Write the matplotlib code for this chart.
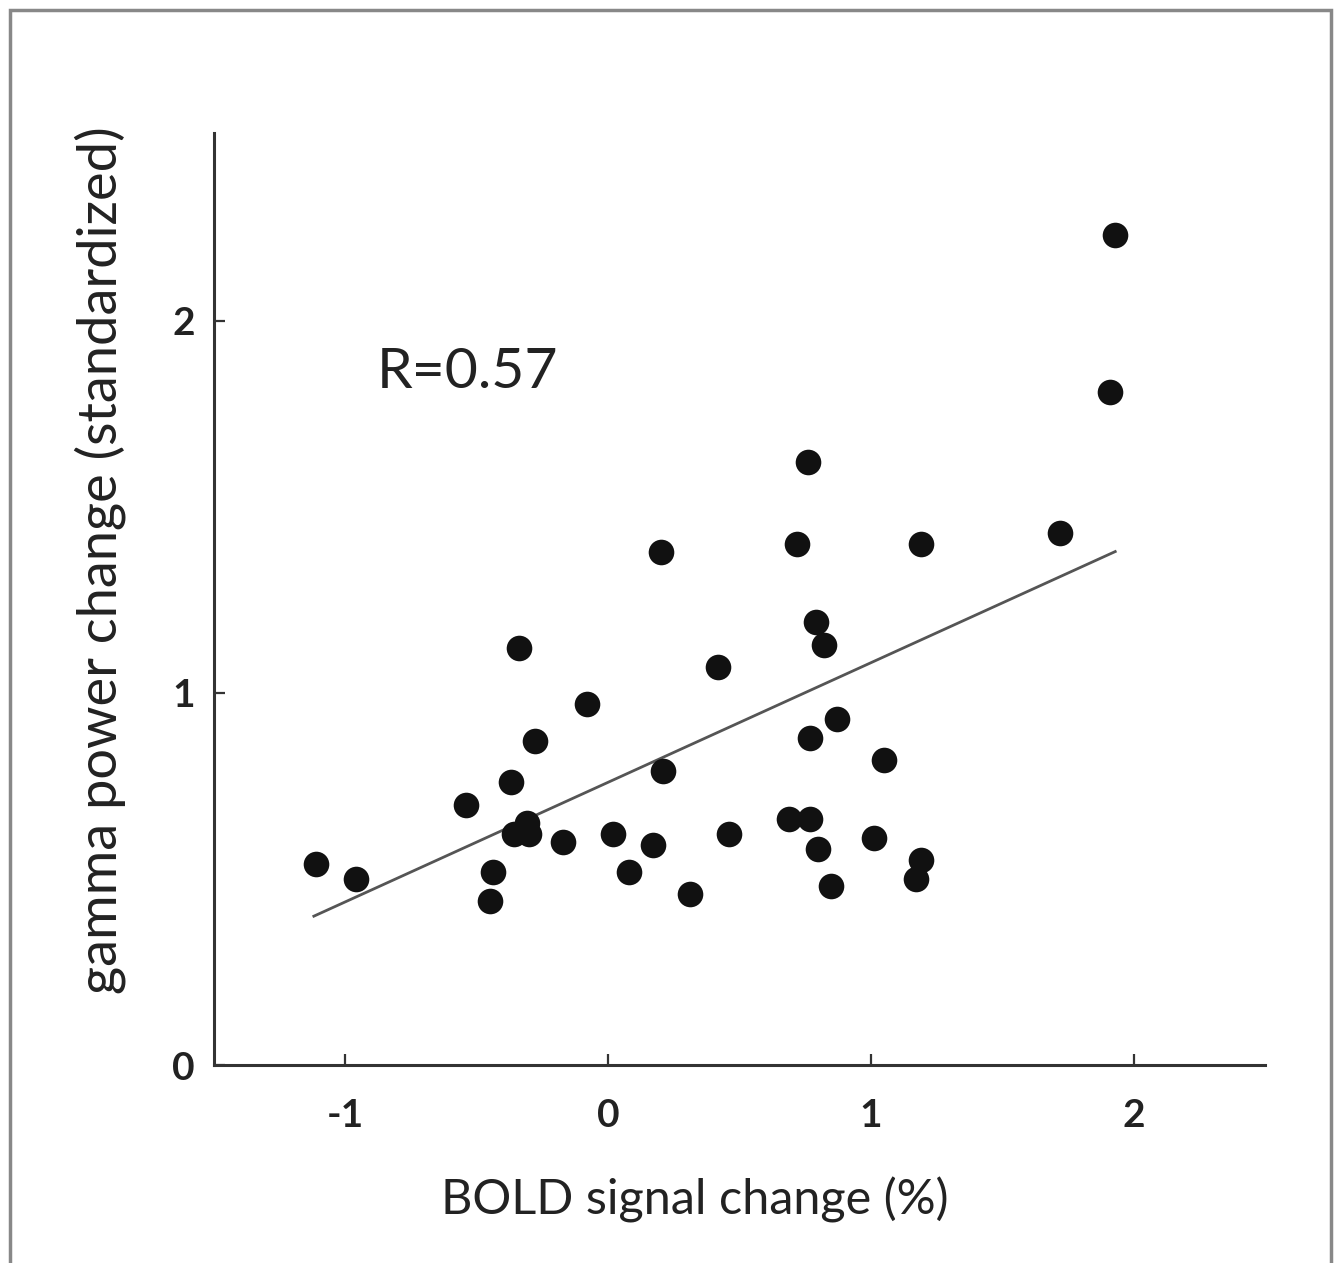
import matplotlib
matplotlib.use("Agg")
import matplotlib.pyplot as plt
from matplotlib.patches import Rectangle

# BOLD signal change (%) vs gamma power change (standardized)
bold = [-1.11, -0.96, -0.54, -0.37, -0.34, -0.28, -0.44, -0.45,
        -0.36, -0.31, -0.30, -0.17, -0.08, 0.02, 0.08, 0.17,
        0.20, 0.21, 0.31, 0.42, 0.46, 0.69, 0.72, 0.76,
        0.79, 0.82, 0.77, 0.87, 0.77, 0.80, 0.85, 1.01,
        1.05, 1.19, 1.19, 1.17, 1.72, 1.91, 1.93]
gamma = [0.54, 0.50, 0.70, 0.76, 1.12, 0.87, 0.52, 0.44,
         0.62, 0.65, 0.62, 0.60, 0.97, 0.62, 0.52, 0.59,
         1.38, 0.79, 0.46, 1.07, 0.62, 0.66, 1.40, 1.62,
         1.19, 1.13, 0.88, 0.93, 0.66, 0.58, 0.48, 0.61,
         0.82, 1.40, 0.55, 0.50, 1.43, 1.81, 2.23]

# regression line end points
fit_x = [-1.12, 1.93]
fit_y = [0.40, 1.38]

r_text = "R=0.57"
xticks = [-1, 0, 1, 2]
yticks = [0, 1, 2]

plt.rcParams["font.family"] = ["Lato", "DejaVu Sans"]

fig = plt.figure(figsize=(13.39, 12.63), dpi=100)
ax = fig.add_axes([214 / 1339, 1 - 1065 / 1263, 1051 / 1339, 932 / 1263])

ax.scatter(bold, gamma, s=340, color="#111111", zorder=3, linewidths=0)
ax.plot(fit_x, fit_y, color="#555555", lw=2.0, zorder=2)

ax.set_xlim(-1.5, 2.5)
ax.set_ylim(0, 2.505)
ax.set_xticks(xticks)
ax.set_yticks(yticks)
ax.set_xticklabels([str(t) for t in xticks], fontweight="bold")
ax.set_yticklabels([str(t) for t in yticks], fontweight="bold")
ax.tick_params(axis="both", direction="in", length=8, width=1.6,
               color="#333333", labelsize=28, labelcolor="#222222")
ax.tick_params(axis="x", pad=24)
ax.tick_params(axis="y", pad=14)

for side in ("top", "right"):
    ax.spines[side].set_visible(False)
for side in ("left", "bottom"):
    ax.spines[side].set_linewidth(2.2)
    ax.spines[side].set_color("#333333")

ax.text(-0.88, 1.86, r_text, fontsize=41, color="#222222", va="center", ha="left")

fig.text(695 / 1339, 1 - 1200 / 1263, "BOLD signal change (%)",
         fontsize=35, color="#222222", ha="center", va="center")
fig.text(100 / 1339, 1 - 560 / 1263, "gamma power change (standardized)",
         fontsize=39, color="#222222", ha="center", va="center", rotation=90)

# grey frame around the whole panel
fig.patches.append(Rectangle((0.0075, -0.01), 0.9865, 1.002, transform=fig.transFigure,
                             fill=False, edgecolor="#888888", lw=2.5))

fig.savefig("out.png", dpi=100)
